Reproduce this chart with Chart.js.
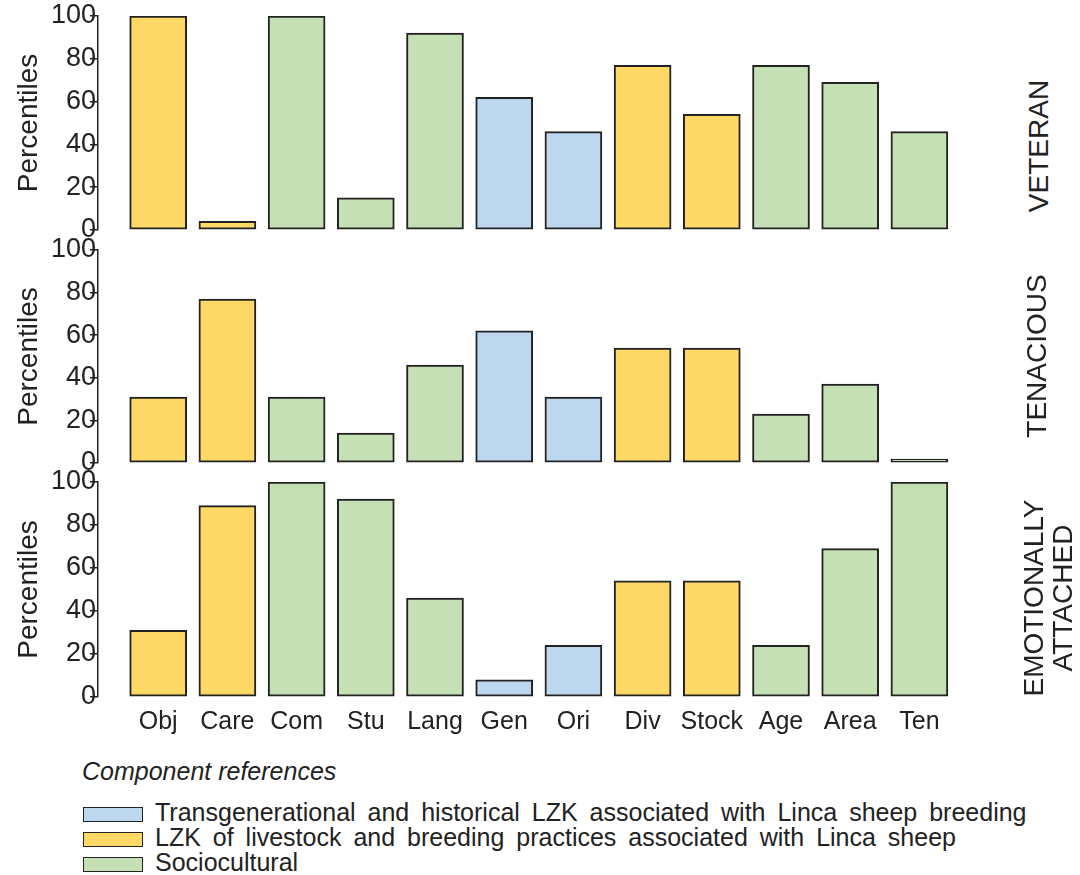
<!DOCTYPE html>
<html>
<head>
<meta charset="utf-8">
<script src="https://cdn.jsdelivr.net/npm/chart.js@4.4.1/dist/chart.umd.min.js"></script>
<style>
  body { margin: 0; background: #fff; width: 1080px; height: 875px; overflow: hidden; position: relative;
         font-family: 'Liberation Sans', Arial, sans-serif; color: #222; }
  canvas { position: absolute; left: 0; }
  .side { position: absolute; transform: translate(-50%, -50%) rotate(-90deg); white-space: nowrap;
          font-size: 28px; line-height: 29px; text-align: center; }
  .legend-title { position: absolute; left: 82px; top: 757px; font-size: 25px; font-style: italic; }
  .legend-row { position: absolute; left: 83px; height: 25px; line-height: 25px; font-size: 25px;
                word-spacing: 5px; white-space: nowrap; }
  .legend-row i { display: inline-block; width: 58px; height: 13px; border: 1.5px solid #222;
                  vertical-align: -1px; margin-right: 12px; }
</style>
</head>
<body>
<canvas id="c1" width="1000" height="246" style="top:0px"></canvas>
<canvas id="c2" width="1000" height="245" style="top:234px"></canvas>
<canvas id="c3" width="1000" height="271" style="top:466px"></canvas>

<div class="side" style="left:1038px; top:146px">VETERAN</div>
<div class="side" style="left:1036px; top:356px">TENACIOUS</div>
<div class="side" style="left:1048px; top:598px">EMOTIONALLY<br>ATTACHED</div>

<div class="legend-title">Component references</div>
<div id="legend"></div>

<script>
// ── data ────────────────────────────────────────────────────────────────────
const CATS   = ['Obj', 'Care', 'Com', 'Stu', 'Lang', 'Gen', 'Ori', 'Div', 'Stock', 'Age', 'Area', 'Ten'];
const GROUPS = ['lzk', 'lzk', 'soc', 'soc', 'soc', 'trans', 'trans', 'lzk', 'lzk', 'soc', 'soc', 'soc'];

const VETERAN              = [100, 4, 100, 15, 92, 62, 46, 77, 54, 77, 69, 46];
const TENACIOUS            = [31, 77, 31, 14, 46, 62, 31, 54, 54, 23, 37, 0];
const EMOTIONALLY_ATTACHED = [31, 89, 100, 92, 46, 8, 24, 54, 54, 24, 69, 100];

const Y_TICKS = [0, 20, 40, 60, 80, 100];

const LEGEND_KEYS   = ['trans', 'lzk', 'soc'];
const LEGEND_LABELS = [
  'Transgenerational and historical LZK associated with Linca sheep breeding',
  'LZK of livestock and breeding practices associated with Linca sheep',
  'Sociocultural',
];

const COLORS = { trans: '#BDD7EE', lzk: '#FFD966', soc: '#C5E0B4' };
const INK = '#222222';
const FONT = "'Liberation Sans', Arial, sans-serif";

// ── one panel ───────────────────────────────────────────────────────────────
function makePanel(id, values, showX) {
  const pad = showX ? { top: 16, bottom: 0, left: 12, right: 46 }
                    : { top: 16, bottom: 16, left: 12, right: 46 };
  const xScale = {
    type: 'linear',
    min: -0.87, max: 11.5,
    offset: false,
    display: showX,
    grid: { display: false },
    border: { display: false },
    afterBuildTicks: s => { s.ticks = CATS.map((c, i) => ({ value: i })); },
    ticks: {
      autoSkip: false, maxRotation: 0, padding: 2,
      color: INK, font: { family: FONT, size: 25 },
      callback: v => CATS[v],
    },
  };
  if (showX) xScale.afterFit = s => { s.height = 40; };

  return new Chart(document.getElementById(id), {
    type: 'bar',
    data: {
      datasets: [{
        data: values.map((v, i) => ({ x: i, y: v })),
        backgroundColor: GROUPS.map(g => COLORS[g]),
        borderColor: INK,
        borderWidth: 2,
        borderSkipped: false,
        barThickness: 57,
        minBarLength: 4,   // keeps the zero bar visible as a flat line
      }],
    },
    options: {
      responsive: false,
      animation: false,
      devicePixelRatio: 1,
      layout: { padding: pad },
      plugins: { legend: { display: false }, tooltip: { enabled: false } },
      scales: {
        x: xScale,
        y: {
          min: 0, max: 100,
          afterBuildTicks: s => { s.ticks = Y_TICKS.map(v => ({ value: v })); },
          afterFit: s => { s.width = 86; },
          grid: { drawOnChartArea: false, drawTicks: true, tickLength: 8, color: INK, lineWidth: 1.5 },
          border: { display: true, color: INK, width: 1.5 },
          ticks: { padding: -6, color: INK, font: { family: FONT, size: 27 } },
          title: {
            display: true, text: 'Percentiles', color: INK,
            font: { family: FONT, size: 28 }, padding: 0,
          },
        },
      },
    },
  });
}

makePanel('c1', VETERAN, false);
makePanel('c2', TENACIOUS, false);
makePanel('c3', EMOTIONALLY_ATTACHED, true);

// ── legend ──────────────────────────────────────────────────────────────────
const legend = document.getElementById('legend');
LEGEND_KEYS.forEach((k, i) => {
  const row = document.createElement('div');
  row.className = 'legend-row';
  row.style.top = (800 + i * 25) + 'px';
  row.innerHTML = `<i style="background:${COLORS[k]}"></i>${LEGEND_LABELS[i]}`;
  legend.appendChild(row);
});
</script>
</body>
</html>
